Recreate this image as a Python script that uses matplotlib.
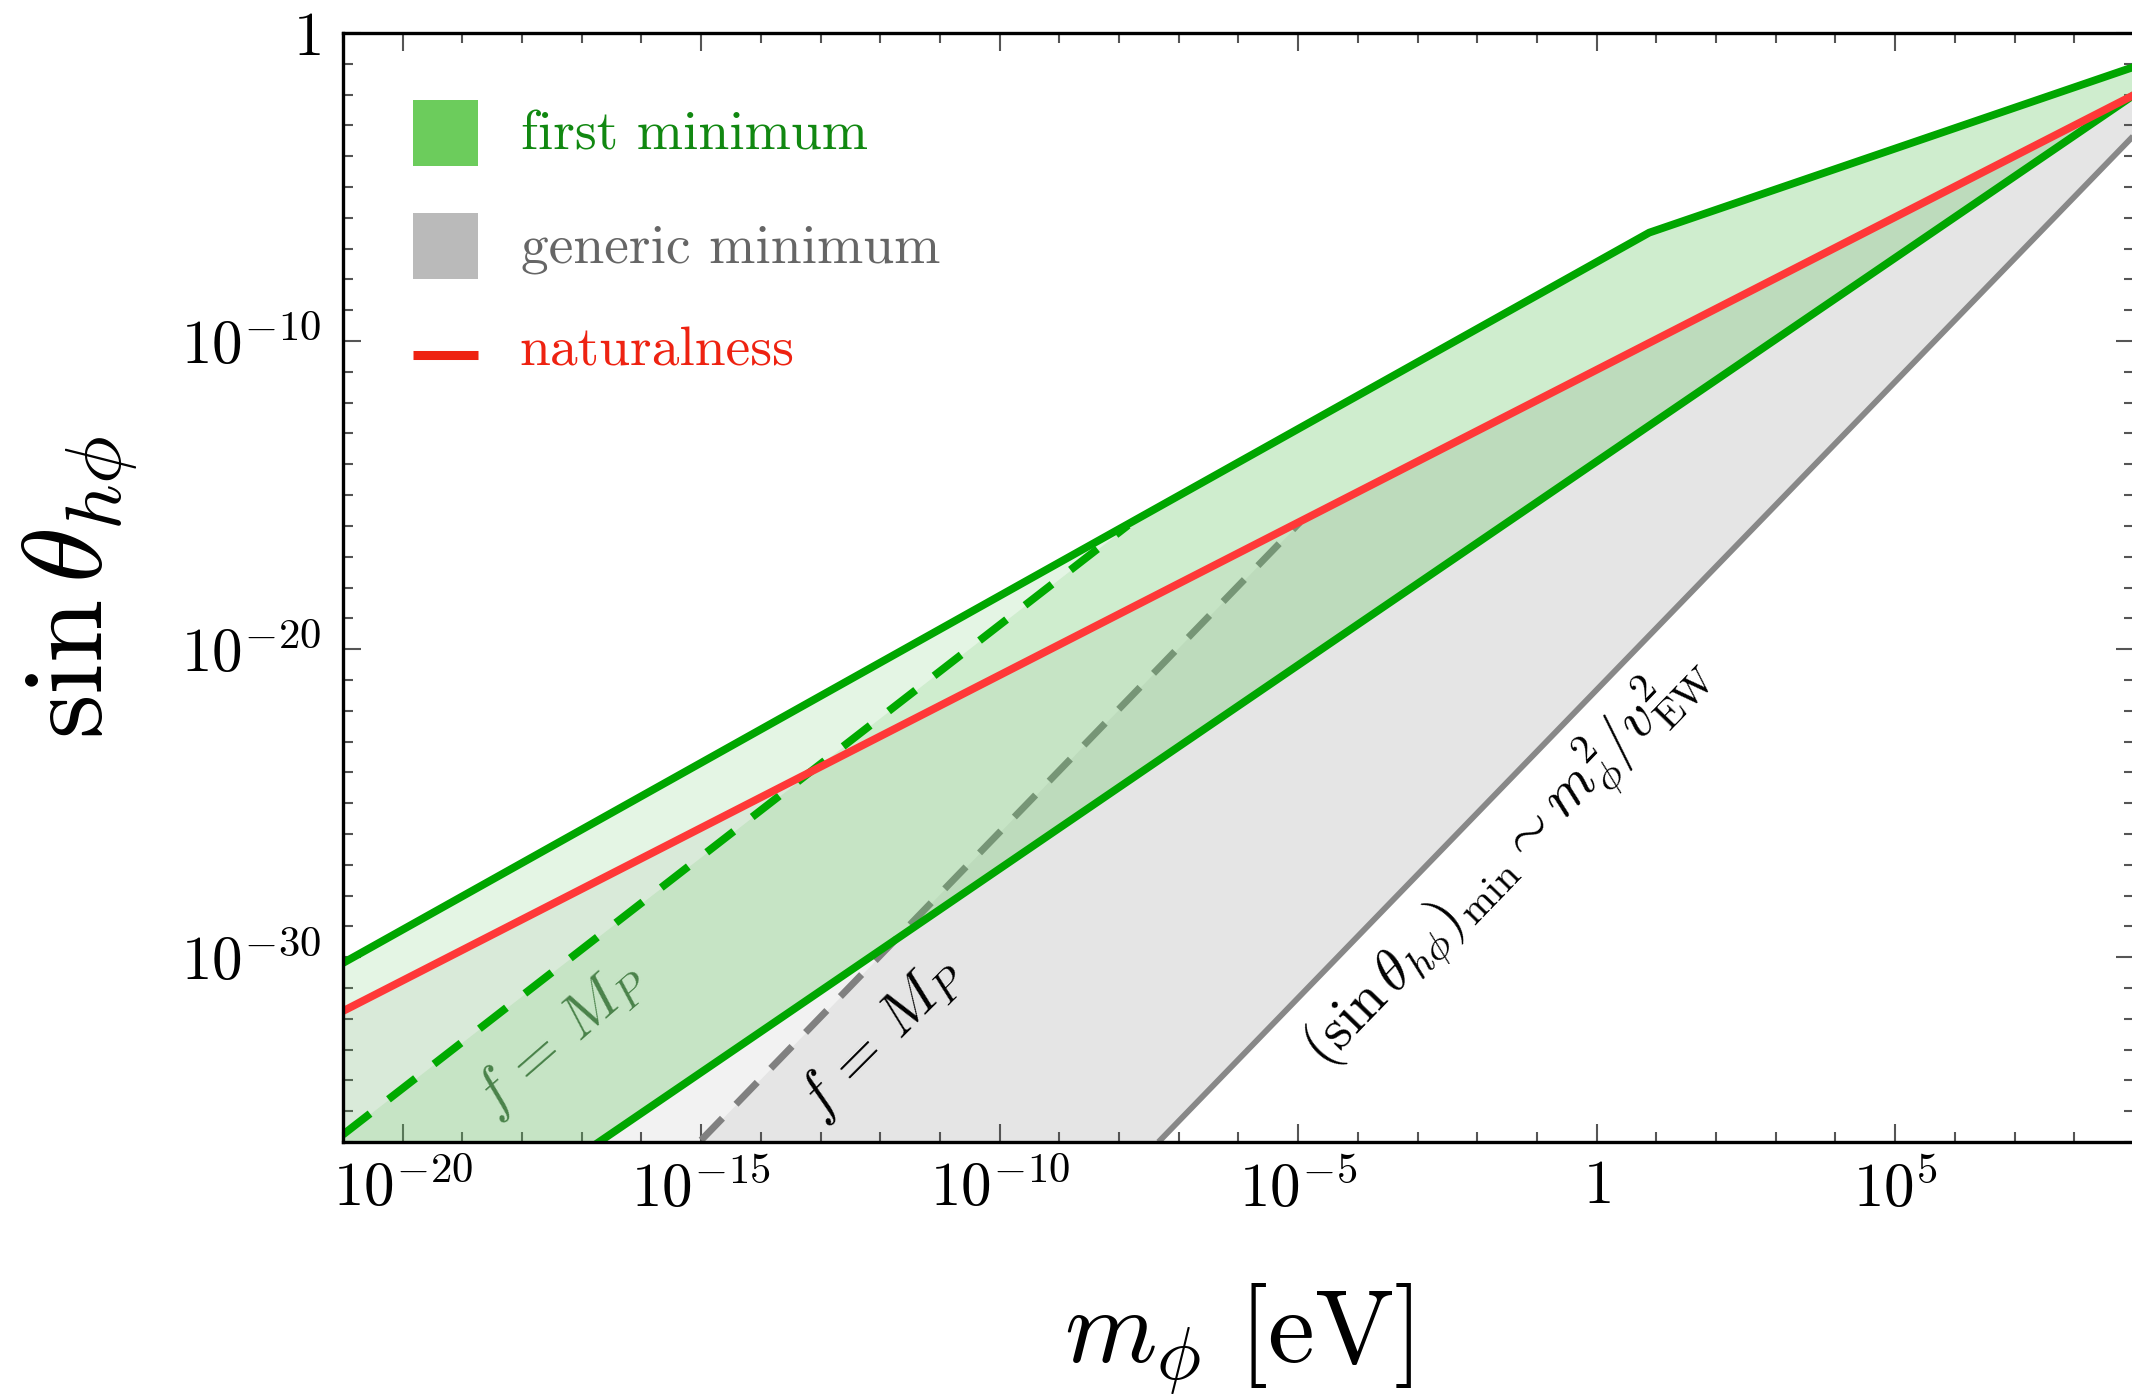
import numpy as np
import matplotlib
matplotlib.use('Agg')
import matplotlib.pyplot as plt
from matplotlib.patches import Rectangle
from matplotlib.lines import Line2D
from matplotlib.ticker import FixedLocator, NullFormatter

plt.rcParams['mathtext.fontset'] = 'cm'
plt.rcParams['font.family'] = 'serif'
plt.rcParams['font.serif'] = ['cmr10', 'DejaVu Serif']
plt.rcParams['axes.formatter.use_mathtext'] = True

# ---------------- data ----------------
# boundary lines, each given by points (m_phi [eV], sin theta)
upper_x = [1e-21, 10**0.88, 1e9]
upper_y = [10**-30.19, 10**-6.48, 10**-1.10]
lower_x = [1e-21, 1e9]
lower_y = [10**-41.67, 10**-2.01]
red_x = [1e-21, 1e9]
red_y = [10**-31.75, 10**-2.01]
gdash_x = [1e-21, 10**-7.85]
gdash_y = [10**-35.76, 10**-15.98]
kdash_x = [1e-15, 10**-4.97]
kdash_y = [10**-35.94, 10**-15.88]
gray_x = [10**-7.34, 1e9]
gray_y = [1e-36, 10**-3.32]

xmaj = [1e-20, 1e-15, 1e-10, 1e-5, 1, 1e5]
xmaj_labels = [r'$10^{-20}$', r'$10^{-15}$', r'$10^{-10}$', r'$10^{-5}$', r'$1$', r'$10^{5}$']
ymaj = [1e-30, 1e-20, 1e-10, 1]
ymaj_labels = [r'$10^{-30}$', r'$10^{-20}$', r'$10^{-10}$', r'$1$']

W, H = 2132, 1396
fig = plt.figure(figsize=(W / 100, H / 100), dpi=100)
ax = fig.add_axes([343 / W, 1 - 1142 / H, (2134 - 343) / W, (1142 - 33) / H])
ax.set_xscale('log')
ax.set_yscale('log')
ax.set_xlim(1e-21, 1e9)
ax.set_ylim(1e-36, 1)


def ev(xs, ys, X):
    lx = np.log10(xs)
    ly = np.log10(ys)
    out = np.interp(X, lx, ly)
    sl0 = (ly[1] - ly[0]) / (lx[1] - lx[0])
    sl1 = (ly[-1] - ly[-2]) / (lx[-1] - lx[-2])
    out = np.where(X < lx[0], ly[0] + (X - lx[0]) * sl0, out)
    out = np.where(X > lx[-1], ly[-1] + (X - lx[-1]) * sl1, out)
    return out


Xg = np.linspace(-21, 9, 6001)
xg = 10 ** Xg
U = ev(upper_x, upper_y, Xg)
L = ev(lower_x, lower_y, Xg)
R = ev(red_x, red_y, Xg)
Dg = ev(gdash_x, gdash_y, Xg)
Dk = ev(kdash_x, kdash_y, Xg)
S = ev(gray_x, gray_y, Xg)

# generic minimum (gray)
top_dark = np.minimum(Dk, R)
ax.fill_between(xg, 10 ** S, 10 ** top_dark, where=S < top_dark, interpolate=True,
                color='#e5e5e5', lw=0, zorder=1)
ax.fill_between(xg, 10 ** Dk, 10 ** R, where=Dk < R, interpolate=True,
                color='#f2f2f2', lw=0, zorder=1)
ax.plot(kdash_x, kdash_y, color='#808080', lw=5, dashes=(4.4, 2.8), zorder=2,
        solid_capstyle='butt', dash_capstyle='butt')

# first minimum (green)
gcol = (98 / 255, 198 / 255, 95 / 255)
top_s = np.minimum(U, Dg)
ax.fill_between(xg, 10 ** L, 10 ** top_s, where=L < top_s, interpolate=True,
                color=gcol, alpha=0.30, lw=0, zorder=3)
low_l = np.maximum(Dg, L)
ax.fill_between(xg, 10 ** low_l, 10 ** U, where=low_l < U, interpolate=True,
                color=gcol, alpha=0.17, lw=0, zorder=3)

# lines
ax.plot(gray_x, gray_y, color='#888888', lw=4.2, zorder=4, solid_capstyle='butt')
ax.plot(upper_x, upper_y, color='#00a600', lw=5.6, zorder=5, solid_joinstyle='miter')
ax.plot(lower_x, lower_y, color='#00a600', lw=5.6, zorder=5)
ax.plot(gdash_x, gdash_y, color='#00aa00', lw=5.6, dashes=(4.4, 3.0), zorder=5,
        dash_capstyle='butt')
ax.plot(red_x, red_y, color='#ff3838', lw=5.6, zorder=6)

# annotations
ax.text(10 ** -17.37, 10 ** -32.62, r'$f\, =\, M_P$', color='#4a824a', fontsize=43,
        rotation=41, ha='center', va='center', rotation_mode='anchor', zorder=7)
ax.text(10 ** -12.0, 10 ** -32.6, r'$f\, =\, M_P$', color='black', fontsize=43,
        rotation=45, ha='center', va='center', rotation_mode='anchor', zorder=7)
ax.text(10 ** -1.50, 10 ** -26.89,
        r'$(\sin\theta_{h\phi})_{\rm min} \sim m_\phi^2/v_{\rm EW}^2$',
        color='black', fontsize=42, rotation=46, ha='center', va='center',
        rotation_mode='anchor', zorder=7)

# axes styling
ax.xaxis.set_major_locator(FixedLocator(xmaj))
ax.xaxis.set_minor_locator(FixedLocator([10.0 ** k for k in range(-21, 10)]))
ax.set_xticklabels(xmaj_labels)
ax.xaxis.set_minor_formatter(NullFormatter())
ax.yaxis.set_major_locator(FixedLocator(ymaj))
ax.yaxis.set_minor_locator(FixedLocator([10.0 ** k for k in range(-36, 1)]))
ax.set_yticklabels(ymaj_labels)
ax.yaxis.set_minor_formatter(NullFormatter())
ax.tick_params(which='both', direction='in', top=True, right=True,
               color='#555555', width=1.5, labelsize=44)
ax.tick_params(which='major', length=13)
ax.tick_params(which='minor', length=7)
ax.tick_params(axis='x', which='major', pad=13)
ax.tick_params(axis='y', which='major', pad=16)
for sp in ax.spines.values():
    sp.set_linewidth(2.4)
    sp.set_color('black')
    sp.set_zorder(10)

# axis labels
fig.text(1238 / W, 1 - 1362 / H, r'$m_\phi\ [\mathrm{eV}]$', fontsize=76,
         ha='center', va='baseline')
fig.text(80 / W, 1 - 587 / H, r'$\sin\theta_{h\phi}$', fontsize=82,
         rotation=90, ha='center', va='center')

# legend (manual)
fig.patches.append(Rectangle((413 / W, 1 - 166 / H), 65 / W, 66 / H,
                             transform=fig.transFigure, color='#6ccc5c', lw=0))
fig.patches.append(Rectangle((413 / W, 1 - 279 / H), 65 / W, 66 / H,
                             transform=fig.transFigure, color='#bababa', lw=0))
fig.lines.append(Line2D([413 / W, 478 / W], [1 - 355 / H, 1 - 355 / H],
                        transform=fig.transFigure, color='#ee2211', lw=6.5,
                        solid_capstyle='butt'))
fig.text(521 / W, 1 - 150 / H, 'first minimum', color='#118811', fontsize=40,
         va='baseline', ha='left')
fig.text(521 / W, 1 - 262 / H, 'generic minimum', color='#666666', fontsize=40,
         va='baseline', ha='left')
fig.text(519 / W, 1 - 366 / H, 'naturalness', color='#ee2211', fontsize=40,
         va='baseline', ha='left')

fig.savefig('out.png', dpi=100)
